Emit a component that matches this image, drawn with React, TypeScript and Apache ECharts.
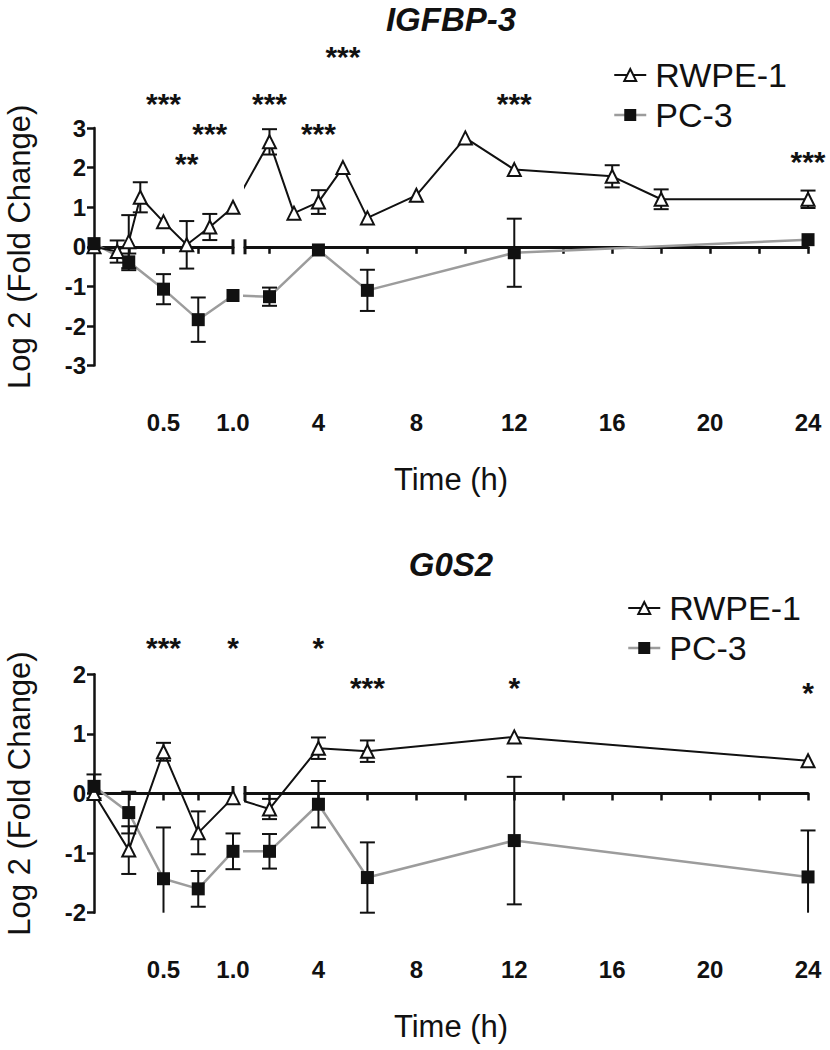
import React, { useEffect, useRef } from 'react';
import * as echarts from 'echarts';

// ---------------- data (time in hours, values = log2 fold change) ----------------
const IGF_RWPE_T = [0, 0.167, 0.25, 0.333, 0.5, 0.667, 0.833, 1, 2, 3, 4, 5, 6, 8, 10, 12, 16, 18, 24];
const IGF_RWPE_V = [0, -0.12, 0.13, 1.25, 0.63, 0.05, 0.5, 1.0, 2.65, 0.85, 1.13, 2.0, 0.73, 1.3, 2.75, 1.95, 1.78, 1.2, 1.2];
const IGF_RWPE_E = [0, 0.28, 0.67, 0.38, 0, 0.6, 0.33, 0, 0.32, 0, 0.3, 0, 0, 0, 0, 0, 0.28, 0.25, 0.22];

const IGF_PC3_T = [0, 0.25, 0.5, 0.75, 1, 2, 4, 6, 12, 24];
const IGF_PC3_V = [0.08, -0.38, -1.07, -1.84, -1.23, -1.26, -0.08, -1.1, -0.15, 0.18];
const IGF_PC3_E = [0, 0.21, 0.38, 0.56, 0, 0.23, 0, 0.52, 0.86, 0];

const IGF_SIG_T = [0.5, 0.667, 0.833, 2, 4, 5, 12, 24];
const IGF_SIG_TEXT = ['***', '**', '***', '***', '***', '***', '***', '***'];
const IGF_SIG_Y = [3.79, 2.29, 3.03, 3.79, 3.03, 4.98, 3.79, 2.32];

const G0S2_RWPE_T = [0, 0.25, 0.5, 0.75, 1, 2, 4, 6, 12, 24];
const G0S2_RWPE_V = [0, -0.95, 0.7, -0.66, -0.07, -0.26, 0.76, 0.71, 0.95, 0.55];
const G0S2_RWPE_E = [0, 0.4, 0.15, 0.36, 0, 0.17, 0.18, 0.18, 0, 0];

const G0S2_PC3_T = [0, 0.25, 0.5, 0.75, 1, 2, 4, 6, 12, 24];
const G0S2_PC3_V = [0.12, -0.32, -1.43, -1.6, -0.97, -0.97, -0.18, -1.41, -0.79, -1.4];
const G0S2_PC3_E = [0.2, 0.35, 0.86, 0.3, 0.3, 0.29, 0.39, 0.59, 1.07, 0.78];

const G0S2_SIG_T = [0.5, 1, 4, 6, 12, 24];
const G0S2_SIG_TEXT = ['***', '*', '*', '***', '*', '*'];
const G0S2_SIG_Y = [2.56, 2.56, 2.56, 1.9, 1.89, 1.82];

// ---------------- axis ticks / labels ----------------
const SEG1_TICKS = [0.25, 0.5, 0.75];
const SEG1_LABELS = [0.5, 1.0];
const SEG1_LABEL_TEXT = ['0.5', '1.0'];
const SEG2_TICKS = [2, 4, 6, 8, 10, 12, 14, 16, 18, 20, 22, 24];
const SEG2_LABELS = [4, 8, 12, 16, 20, 24];
const SEG2_LABEL_TEXT = ['4', '8', '12', '16', '20', '24'];

// ---------------- broken time scale (units = px) ----------------
const SEG1_W = 139; // 0..1 h
const GAP_W = 12; // axis break
const SEG2_PX_H = 24.48; // px per hour after the break
const SEG1_END = SEG1_W;
const SEG2_START = SEG1_W + GAP_W;
const X_END = SEG2_START + 23 * SEG2_PX_H;
const pos = (t: number) => (t <= 1 ? t * SEG1_W : SEG2_START + (t - 1) * SEG2_PX_H);

const PLOT_LEFT = 94;
const FONT = '"Liberation Sans", Arial, Helvetica, sans-serif';
const INK = '#111111';
const GREY = '#9c9c9c';

type Panel = {
  title: string;
  rT: number[]; rV: number[]; rE: number[];
  pT: number[]; pV: number[]; pE: number[];
  sT: number[]; sText: string[]; sY: number[];
  yMin: number; yMax: number;
  top: number; height: number;
  titleY: number; timeY: number;
  legendLeft: number; legendTop: number;
};

const PANELS: Panel[] = [
  {
    title: 'IGFBP-3',
    rT: IGF_RWPE_T, rV: IGF_RWPE_V, rE: IGF_RWPE_E,
    pT: IGF_PC3_T, pV: IGF_PC3_V, pE: IGF_PC3_E,
    sT: IGF_SIG_T, sText: IGF_SIG_TEXT, sY: IGF_SIG_Y,
    yMin: -3, yMax: 3, top: 128, height: 237.6,
    titleY: 19, timeY: 479, legendLeft: 613, legendTop: 58,
  },
  {
    title: 'G0S2',
    rT: G0S2_RWPE_T, rV: G0S2_RWPE_V, rE: G0S2_RWPE_E,
    pT: G0S2_PC3_T, pV: G0S2_PC3_V, pE: G0S2_PC3_E,
    sT: G0S2_SIG_T, sText: G0S2_SIG_TEXT, sY: G0S2_SIG_Y,
    yMin: -2, yMax: 2, top: 674.3, height: 238.4,
    titleY: 564, timeY: 1026, legendLeft: 627, legendTop: 591,
  },
];

function labelFormatter(ts: number[], texts: string[]) {
  return (val: number) => {
    const i = ts.findIndex((t) => Math.abs(pos(t) - val) < 0.01);
    return i >= 0 ? texts[i] : '';
  };
}

function buildOption() {
  const grid: any[] = [];
  const xAxis: any[] = [];
  const yAxis: any[] = [];
  const series: any[] = [];
  const legend: any[] = [];
  const graphic: any[] = [];

  PANELS.forEach((P, p) => {
    const gA = 2 * p;
    const gB = 2 * p + 1;
    grid.push({ left: PLOT_LEFT, top: P.top, width: SEG1_END, height: P.height, outerBoundsMode: 'none' });
    grid.push({ left: PLOT_LEFT + SEG2_START, top: P.top, width: X_END - SEG2_START, height: P.height, outerBoundsMode: 'none' });

    const segs = [
      { g: gA, min: 0, max: SEG1_END, ticks: SEG1_TICKS, labels: SEG1_LABELS, texts: SEG1_LABEL_TEXT, inSeg: (t: number) => t <= 1, breakX: SEG1_END },
      { g: gB, min: SEG2_START, max: X_END, ticks: SEG2_TICKS, labels: SEG2_LABELS, texts: SEG2_LABEL_TEXT, inSeg: (t: number) => t > 1, breakX: SEG2_START },
    ];

    segs.forEach((s, k) => {
      const xiLabel = xAxis.length;
      // label axis (bottom of the plot)
      xAxis.push({
        type: 'value', gridIndex: s.g, position: 'bottom', min: s.min, max: s.max,
        axisLine: { show: false, onZero: false }, axisTick: { show: false }, splitLine: { show: false },
        axisLabel: {
          show: true, customValues: s.labels.map(pos), formatter: labelFormatter(s.labels, s.texts),
          fontSize: 24, fontWeight: 'bold', color: INK, fontFamily: FONT, margin: 45,
        },
      });
      // zero line axis with ticks
      xAxis.push({
        type: 'value', gridIndex: s.g, position: 'top', min: s.min, max: s.max,
        axisLine: { show: true, onZero: true, lineStyle: { color: INK, width: 3 } },
        axisTick: { show: true, inside: true, length: 7, customValues: s.ticks.map(pos), lineStyle: { color: INK, width: 2.5 } },
        axisLabel: { show: false }, splitLine: { show: false },
      });
      const yi = yAxis.length;
      if (k === 0) {
        yAxis.push({
          type: 'value', gridIndex: s.g, min: P.yMin, max: P.yMax, interval: 1,
          axisLine: { show: true, onZero: false, lineStyle: { color: INK, width: 2.5 } },
          axisTick: { show: true, length: 7, lineStyle: { color: INK, width: 2.5 } },
          axisLabel: { fontSize: 24, fontWeight: 'bold', color: INK, fontFamily: FONT, margin: 8 },
          splitLine: { show: false },
          name: 'Log 2 (Fold Change)', nameLocation: 'middle', nameGap: 59,
          nameTextStyle: { fontSize: 31, color: INK, fontFamily: FONT },
        });
      } else {
        yAxis.push({ type: 'value', gridIndex: s.g, min: P.yMin, max: P.yMax, show: false, axisLine: { onZero: false } });
      }

      const pcAll = P.pT.map((t, i) => [pos(t), P.pV[i]]);
      const rwAll = P.rT.map((t, i) => [pos(t), P.rV[i]]);

      series.push({
        type: 'line', name: 'PC-3', xAxisIndex: xiLabel, yAxisIndex: yi, data: pcAll,
        showSymbol: false, symbol: 'rect', symbolSize: 13, clip: true, z: 2, silent: true,
        lineStyle: { color: GREY, width: 2.5 }, itemStyle: { color: INK, opacity: 1 },
      });
      series.push({
        type: 'line', name: 'RWPE-1', xAxisIndex: xiLabel, yAxisIndex: yi, data: rwAll,
        showSymbol: false, symbol: 'triangle', symbolSize: 13, clip: true, z: 2, silent: true,
        lineStyle: { color: INK, width: 2 }, itemStyle: { color: '#fff', borderColor: INK, borderWidth: 2, opacity: 1 },
      });

      const errData: number[][] = [];
      P.pT.forEach((t, i) => { if (s.inSeg(t)) errData.push([pos(t), P.pV[i], P.pE[i]]); });
      P.rT.forEach((t, i) => { if (s.inSeg(t)) errData.push([pos(t), P.rV[i], P.rE[i]]); });
      const yMin = P.yMin;
      const yMax = P.yMax;
      series.push({
        type: 'custom', name: 'err', xAxisIndex: xiLabel, yAxisIndex: yi, data: errData, z: 3, silent: true, clip: false,
        renderItem: (params: any, api: any) => {
          const x = api.value(0);
          const v = api.value(1);
          const e = api.value(2);
          if (!(e > 0)) return null;
          const hiV = Math.min(v + e, yMax);
          const loV = Math.max(v - e, yMin);
          const hi = api.coord([x, hiV]);
          const lo = api.coord([x, loV]);
          const st = { stroke: INK, lineWidth: 2 };
          const children: any[] = [
            { type: 'line', shape: { x1: hi[0], y1: hi[1], x2: lo[0], y2: lo[1] }, style: st },
          ];
          if (v + e <= yMax) children.push({ type: 'line', shape: { x1: hi[0] - 7.5, y1: hi[1], x2: hi[0] + 7.5, y2: hi[1] }, style: st });
          if (v - e >= yMin) children.push({ type: 'line', shape: { x1: lo[0] - 7.5, y1: lo[1], x2: lo[0] + 7.5, y2: lo[1] }, style: st });
          return { type: 'group', children };
        },
      });

      // axis break mark
      series.push({
        type: 'scatter', name: 'break', xAxisIndex: xiLabel, yAxisIndex: yi, data: [[s.breakX, 0]],
        symbol: 'rect', symbolSize: [3, 15], itemStyle: { color: INK, opacity: 1 }, clip: false, z: 3, silent: true,
      });

      series.push({
        type: 'scatter', name: 'RWPE-1 points', xAxisIndex: xiLabel, yAxisIndex: yi,
        data: P.rT.map((t, i) => (s.inSeg(t) ? [pos(t), P.rV[i]] : null)).filter(Boolean),
        symbol: 'triangle', symbolSize: 13, clip: false, z: 4, silent: true,
        itemStyle: { color: '#fff', borderColor: INK, borderWidth: 2, opacity: 1 },
      });
      series.push({
        type: 'scatter', name: 'PC-3 points', xAxisIndex: xiLabel, yAxisIndex: yi,
        data: P.pT.map((t, i) => (s.inSeg(t) ? [pos(t), P.pV[i]] : null)).filter(Boolean),
        symbol: 'rect', symbolSize: 13, clip: false, z: 5, silent: true,
        itemStyle: { color: INK, opacity: 1 },
      });

      series.push({
        type: 'scatter', name: 'significance', xAxisIndex: xiLabel, yAxisIndex: yi,
        data: P.sT.map((t, i) => (s.inSeg(t) ? { value: [pos(t), P.sY[i]], name: P.sText[i] } : null)).filter(Boolean),
        symbolSize: 1, itemStyle: { color: 'rgba(0,0,0,0)', opacity: 1 }, clip: false, z: 6, silent: true,
        label: {
          show: true, position: 'inside', formatter: '{b}', offset: [0, 7],
          fontSize: 30, fontWeight: 'bold', color: INK, fontFamily: FONT, opacity: 1,
        },
      });
    });

    legend.push({
      data: [
        { name: 'RWPE-1', itemStyle: { color: '#fff', borderColor: INK, borderWidth: 2, opacity: 1 }, lineStyle: { color: INK, width: 2 } },
        { name: 'PC-3', itemStyle: { color: INK, borderWidth: 0, opacity: 1 }, lineStyle: { color: GREY, width: 2.5 } },
      ],
      orient: 'vertical', left: P.legendLeft, top: P.legendTop, padding: 0,
      itemWidth: 32, itemHeight: 15, itemGap: 6, selectedMode: false,
      textStyle: { fontSize: 34, color: INK, fontFamily: FONT, padding: [0, 0, 0, 4] },
    });

    graphic.push({
      type: 'text', x: PLOT_LEFT + X_END / 2, y: P.titleY,
      style: {
        text: P.title, font: `italic bold 33px ${FONT}`, fill: INK,
        textAlign: 'center', textVerticalAlign: 'middle', align: 'center', verticalAlign: 'middle',
      },
    });
    graphic.push({
      type: 'text', x: PLOT_LEFT + X_END / 2, y: P.timeY,
      style: {
        text: 'Time (h)', font: `31px ${FONT}`, fill: INK,
        textAlign: 'center', textVerticalAlign: 'middle', align: 'center', verticalAlign: 'middle',
      },
    });
  });

  return {
    animation: false,
    backgroundColor: '#ffffff',
    grid, xAxis, yAxis, series, legend, graphic,
  };
}

export default function App() {
  const ref = useRef<HTMLDivElement>(null);
  useEffect(() => {
    if (!ref.current) return;
    const chart = echarts.init(ref.current, undefined, { renderer: 'svg' });
    chart.setOption(buildOption() as any);
    return () => chart.dispose();
  }, []);
  return (
    <div
      ref={ref}
      style={{ position: 'absolute', left: 0, top: 0, width: 830, height: 1050, background: '#fff' }}
    />
  );
}
